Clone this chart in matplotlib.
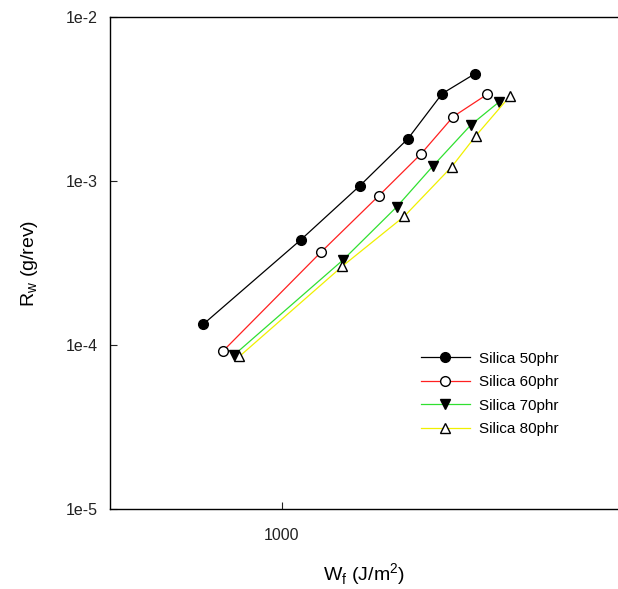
import matplotlib.pyplot as plt

plt.rcParams['font.family'] = ['Liberation Sans', 'DejaVu Sans']

# Wear rate vs frictional work
wf_50 = [658, 1105, 1517, 1958, 2350, 2795]
rw_50 = [1.34e-4, 4.37e-4, 9.38e-4, 1.81e-3, 3.41e-3, 4.50e-3]

wf_60 = [732, 1230, 1678, 2098, 2493, 2989]
rw_60 = [9.23e-5, 3.67e-4, 8.15e-4, 1.46e-3, 2.47e-3, 3.38e-3]

wf_70 = [776, 1387, 1844, 2241, 2740, 3186]
rw_70 = [8.72e-5, 3.31e-4, 6.95e-4, 1.24e-3, 2.20e-3, 3.04e-3]

wf_80 = [797, 1380, 1920, 2472, 2814, 3372]
rw_80 = [8.51e-5, 3.02e-4, 6.09e-4, 1.22e-3, 1.89e-3, 3.29e-3]

labels = ['Silica 50phr', 'Silica 60phr', 'Silica 70phr', 'Silica 80phr']

fig = plt.figure(figsize=(6.18, 5.89), dpi=100)
ax = fig.add_axes([110/618, 80/589, 508/618, 492/589])

ax.plot(wf_50, rw_50, color='black', lw=0.9, marker='o', ms=7,
        mfc='black', mec='black', label=labels[0])
ax.plot(wf_60, rw_60, color='#ff2020', lw=0.9, marker='o', ms=7,
        mfc='white', mec='black', label=labels[1])
ax.plot(wf_70, rw_70, color='#30e030', lw=0.9, marker='v', ms=7.5,
        mfc='black', mec='black', label=labels[2])
ax.plot(wf_80, rw_80, color='#f0f000', lw=0.9, marker='^', ms=7.5,
        mfc='white', mec='black', label=labels[3])

ax.set_xscale('log')
ax.set_yscale('log')
ax.set_xlim(400, 6000)
ax.set_ylim(1e-5, 1e-2)

ax.set_xticks([1000])
ax.set_xticklabels(['1000'])
ax.set_yticks([1e-5, 1e-4, 1e-3, 1e-2])
ax.set_yticklabels(['1e-5', '1e-4', '1e-3', '1e-2'])
ax.minorticks_off()
ax.tick_params(direction='in', length=5, width=0.8, labelsize=11.5, colors='#222222')
ax.tick_params(axis='x', pad=14)
ax.tick_params(axis='y', pad=9)

for s in ax.spines.values():
    s.set_linewidth(1.0)
ax.spines['right'].set_visible(False)

ax.set_xlabel('W$_\\mathregular{f}$ (J/m$^\\mathregular{2}$)', fontsize=14, labelpad=13)
ax.set_ylabel('R$_\\mathregular{w}$ (g/rev)', fontsize=14, labelpad=18)

ax.legend(loc='upper left', bbox_to_anchor=(413/618, 1 - 344/589),
          bbox_transform=fig.transFigure, frameon=False, fontsize=11,
          handlelength=3.2, labelspacing=0.62, borderpad=0, handletextpad=0.6)

plt.savefig('out.png', dpi=100)
